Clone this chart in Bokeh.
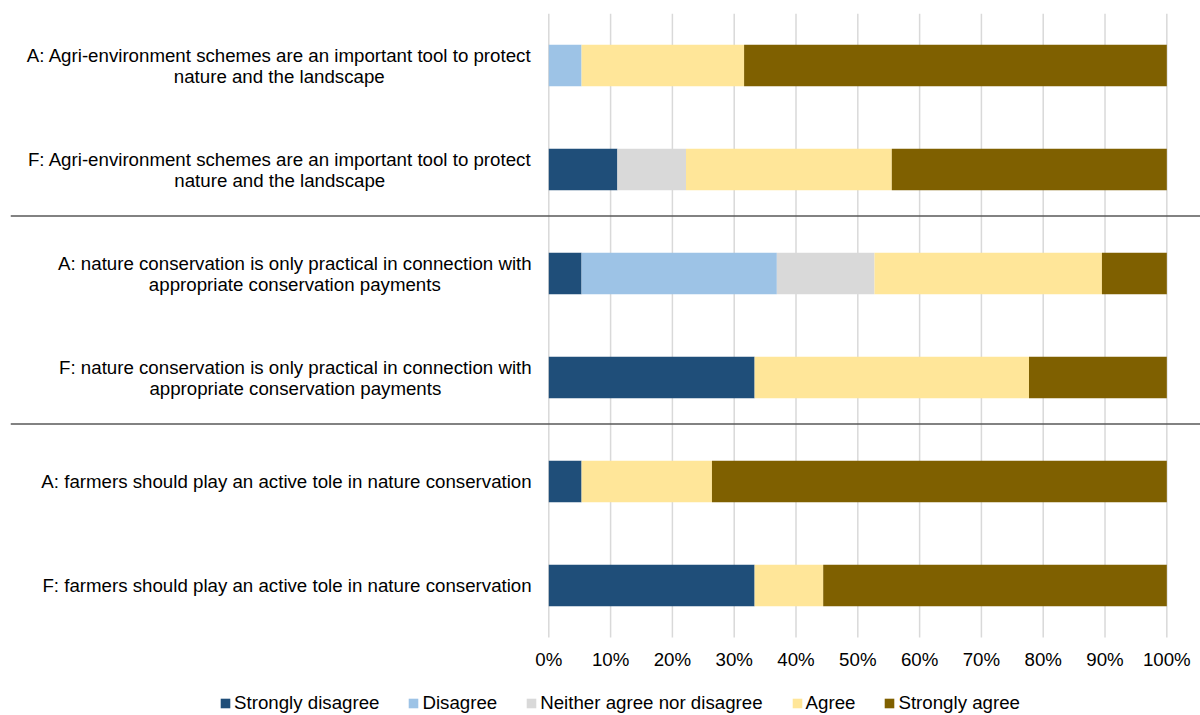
from bokeh.plotting import figure
from bokeh.models import (ColumnDataSource, Range1d, FixedTicker, PrintfTickFormatter,
                          Span, Legend, LegendItem)
from bokeh.core.properties import value
from bokeh.embed import file_html
from bokeh.resources import INLINE

statements = [
    "A: Agri-environment schemes are an important tool to protect\nnature and the landscape",
    "F: Agri-environment schemes are an important tool to protect\nnature and the landscape",
    "A: nature conservation is only practical in connection with\nappropriate conservation payments",
    "F: nature conservation is only practical in connection with\nappropriate conservation payments",
    "A: farmers should play an active tole in nature conservation",
    "F: farmers should play an active tole in nature conservation",
]
series_names = ["Strongly disagree", "Disagree", "Neither agree nor disagree", "Agree", "Strongly agree"]
strongly_disagree = [0.0, 11.1, 5.3, 33.3, 5.3, 33.3]
disagree = [5.3, 0.0, 31.6, 0.0, 0.0, 0.0]
neither = [0.0, 11.1, 15.8, 0.0, 0.0, 0.0]
agree = [26.3, 33.3, 36.8, 44.4, 21.1, 11.1]
strongly_agree = [68.4, 44.5, 10.5, 22.3, 73.6, 55.6]
tick_values = [0, 10, 20, 30, 40, 50, 60, 70, 80, 90, 100]
group_boundaries = [2, 4]  # separator lines after these many statements

colors = ["#1F4E79", "#9DC3E6", "#D9D9D9", "#FFE699", "#7F6000"]
FONT = "Liberation Sans"
FS = 18.7

# Arial / Liberation Sans advance widths (per 1000 em) for label centering
W = dict(a=556, b=556, c=500, d=556, e=556, f=278, g=556, h=556, i=222, j=222, k=500,
         l=222, m=833, n=556, o=556, p=556, q=556, r=333, s=500, t=278, u=556, v=500,
         w=722, x=500, y=500, z=500)
W.update({"A": 667, "F": 611, ":": 278, "-": 333, " ": 278})


def text_width(s):
    return max(sum(W.get(c, 556) for c in line) for line in s.split("\n")) / 1000.0 * FS


n = len(statements)
top, bottom = -0.5, n - 0.5

p = figure(width=1200, height=715,
           x_range=Range1d(-87.1, 105.45), y_range=Range1d(6.25, top),
           output_backend="svg", toolbar_location=None, y_axis_location=None,
           min_border_left=10, min_border_right=0, min_border_top=13, min_border_bottom=0,
           outline_line_color=None, background_fill_color="white", border_fill_color="white")
p.xgrid.visible = False
p.ygrid.visible = False

# vertical gridlines over the bar area only
p.segment(x0=tick_values, x1=tick_values, y0=[top] * len(tick_values), y1=[bottom] * len(tick_values),
          line_color="#D9D9D9", line_width=1.5)

ys = list(range(n))
source = ColumnDataSource(dict(
    y=ys,
    **{series_names[0]: strongly_disagree, series_names[1]: disagree,
       series_names[2]: neither, series_names[3]: agree, series_names[4]: strongly_agree}))

renderers = p.hbar_stack(series_names, y="y", height=0.4, color=colors,
                         line_color=None, source=source)

# category labels
label_src = ColumnDataSource(dict(
    x=[0] * n, y=ys, text=statements,
    xoff=[-17 - text_width(s) / 2 for s in statements]))
p.text(x="x", y="y", text="text", x_offset="xoff", source=label_src,
       text_align="center", text_baseline="middle", text_font=value(FONT),
       text_font_size=f"{FS}px", text_line_height=1.0, text_color="#000000")

# separators between groups
for b in group_boundaries:
    p.add_layout(Span(location=b - 0.5 - 0.053, dimension="width",
                      line_color="#595959", line_width=1.3))

ticker = FixedTicker(ticks=tick_values)
ax = p.xaxis[0]
ax.fixed_location = bottom
ax.ticker = ticker
ax.formatter = PrintfTickFormatter(format="%d%%")
ax.axis_line_color = None
ax.major_tick_line_color = None
ax.minor_tick_line_color = None
ax.major_tick_out = 0
ax.major_tick_in = 0
ax.major_label_standoff = 11
ax.major_label_text_font = FONT
ax.major_label_text_font_size = f"{FS}px"
ax.major_label_text_color = "#000000"

legend = Legend(items=[LegendItem(label=nm, renderers=[r]) for nm, r in zip(series_names, renderers)],
                orientation="horizontal", location=(209, 1),
                glyph_width=12, glyph_height=12, label_standoff=3, spacing=28,
                padding=0, margin=0, border_line_color=None, background_fill_alpha=0,
                label_text_font=FONT, label_text_font_size=f"{FS}px",
                label_text_color="#000000", label_height=20)
p.add_layout(legend, "center")

open("out.html", "w").write(file_html(p, INLINE))
